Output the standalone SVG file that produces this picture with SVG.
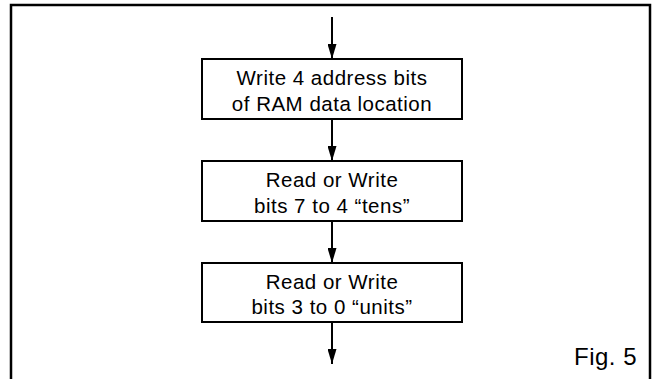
<svg xmlns="http://www.w3.org/2000/svg" width="653" height="379" viewBox="0 0 653 379">
<defs>
<marker id="ah" viewBox="0 0 15 9" refX="15" refY="4.5" markerWidth="15" markerHeight="9" orient="auto" markerUnits="userSpaceOnUse">
<path d="M0,0 L15,4.5 L0,9 Z" fill="#000"/>
</marker>
<style>
.box{fill:#fff;stroke:#000;stroke-width:2}
.t{font-family:"Liberation Sans",Arial,sans-serif;font-size:20.5px;letter-spacing:0.5px;fill:#000;text-anchor:middle}
.c{stroke:#000;stroke-width:2;fill:none}
</style>
</defs>
<rect x="0" y="0" width="653" height="379" fill="#fff"/>
<rect x="11" y="5" width="639" height="380" fill="none" stroke="#000" stroke-width="2.5"/>
<g id="connectors">
<line class="c" x1="332" y1="17" x2="332" y2="59" marker-end="url(#ah)"/>
<line class="c" x1="332" y1="119" x2="332" y2="161" marker-end="url(#ah)"/>
<line class="c" x1="332" y1="221" x2="332" y2="263" marker-end="url(#ah)"/>
<line class="c" x1="332" y1="322" x2="332" y2="364" marker-end="url(#ah)"/>
</g>
<g id="n1">
<rect class="box" x="202" y="59" width="260" height="60"/>
<text class="t" x="332" y="85">Write 4 address bits</text>
<text class="t" x="332" y="111">of RAM data location</text>
</g>
<g id="n2">
<rect class="box" x="202" y="161" width="260" height="60"/>
<text class="t" x="332" y="187">Read or Write</text>
<text class="t" x="332" y="213">bits 7 to 4 “tens”</text>
</g>
<g id="n3">
<rect class="box" x="202" y="263" width="260" height="59"/>
<text class="t" x="332" y="289">Read or Write</text>
<text class="t" x="332" y="314">bits 3 to 0 “units”</text>
</g>
<g id="caption">
<text x="637" y="365" font-family="Liberation Sans, Arial, sans-serif" font-size="24" letter-spacing="0.5" text-anchor="end">Fig. 5</text>
</g>
</svg>
